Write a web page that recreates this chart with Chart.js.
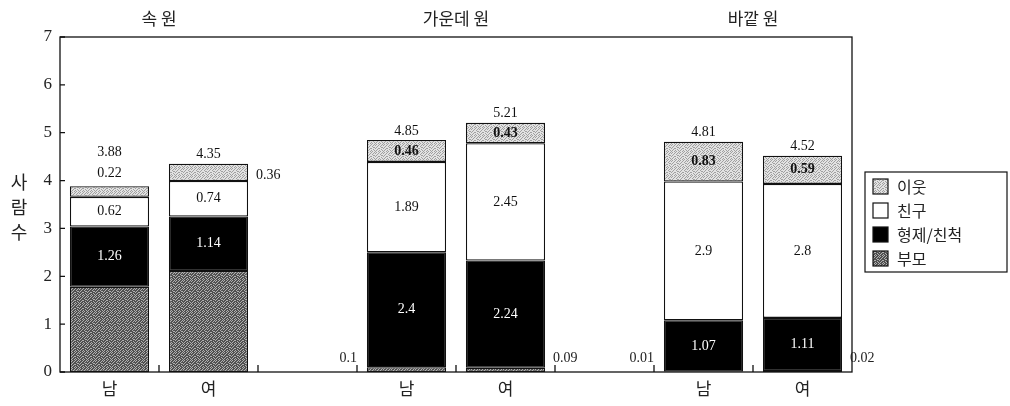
<!DOCTYPE html>
<html>
<head>
<meta charset="utf-8">
<script src="https://cdn.jsdelivr.net/npm/chart.js@4"></script>
<style>
  html, body { margin: 0; padding: 0; background: #fff; }
  #wrap { width: 1010px; height: 406px; }
</style>
</head>
<body>
<div id="wrap"><canvas id="mychart" width="1010" height="406"></canvas></div>
<script>
// categories (8 slots: 3 groups of 남/여 with empty gaps)
var slots = ['남', '여', '', '남', '여', '', '남', '여'];
var groups = ['속 원', '가운데 원', '바깥 원'];
var seriesNames = ['부모', '형제/친척', '친구', '이웃'];

// values
var parents    = [1.78, 2.11, null, 0.1,  0.09, null, 0.01, 0.02];
var siblings   = [1.26, 1.14, null, 2.4,  2.24, null, 1.07, 1.11];
var friends    = [0.62, 0.74, null, 1.89, 2.45, null, 2.9,  2.8];
var neighbours = [0.22, 0.36, null, 0.46, 0.43, null, 0.83, 0.59];
var totals     = [3.88, 4.35, null, 4.85, 5.21, null, 4.81, 4.52];
var yTicks = [0, 1, 2, 3, 4, 5, 6, 7];

var numFont = '"Liberation Serif", "DejaVu Serif", serif';
var krFont = '"Noto Sans CJK KR", sans-serif';

// speckled fills like the scanned print (fixed 8x8 tile)
var tile = [
    '10010010',
    '00100101',
    '01001000',
    '10000110',
    '00110001',
    '01000100',
    '10010010',
    '00101001'
];
function speckle(base, dot) {
    var c = document.createElement('canvas');
    c.width = 8; c.height = 8;
    var g = c.getContext('2d');
    g.fillStyle = base;
    g.fillRect(0, 0, 8, 8);
    g.fillStyle = dot;
    tile.forEach(function (row, y) {
        for (var x = 0; x < 8; x++) {
            if (row[x] === '1') g.fillRect(x, y, 1, 1);
        }
    });
    return g.createPattern(c, 'repeat');
}
var fillParents = speckle('#505050', '#b0b0b0');
var fillNeighbours = speckle('#e2e2e2', '#a0a0a0');

var frame = {
    id: 'frame',
    beforeDatasetsDraw: function (chart) {
        var a = chart.chartArea, g = chart.ctx, xs = chart.scales.x, ys = chart.scales.y;
        g.save();
        g.strokeStyle = '#111';
        g.lineWidth = 1.3;
        g.strokeRect(a.left, a.top, a.right - a.left, a.bottom - a.top);
        g.beginPath();
        yTicks.forEach(function (v) {
            var y = ys.getPixelForValue(v);
            g.moveTo(a.left, y); g.lineTo(a.left + 5, y);
        });
        for (var i = 1; i < slots.length; i++) {
            var x = (xs.getPixelForValue(i - 1) + xs.getPixelForValue(i)) / 2;
            g.moveTo(x, a.bottom); g.lineTo(x, a.bottom - 7);
        }
        g.stroke();
        g.restore();
    },
    afterDraw: function (chart) {
        var a = chart.chartArea, g = chart.ctx, xs = chart.scales.x;
        g.save();
        g.fillStyle = '#222';
        g.textAlign = 'center';
        g.textBaseline = 'middle';
        // group titles
        g.font = '17px ' + krFont;
        groups.forEach(function (t, k) {
            var x = (xs.getPixelForValue(k * 3) + xs.getPixelForValue(k * 3 + 1)) / 2;
            g.fillText(t, x, 19);
        });
        // y title, stacked
        g.font = '18px ' + krFont;
        ['사', '람', '수'].forEach(function (ch, k) {
            g.fillText(ch, 19, 182 + k * 25);
        });

        // value labels
        var metas = [0, 1, 2, 3].map(function (d) { return chart.getDatasetMeta(d); });
        for (var i = 0; i < slots.length; i++) {
            if (totals[i] == null) continue;
            var grp = Math.floor(i / 3), female = (i % 3) === 1;
            var top = metas[3].data[i];
            var half = top.width / 2;
            g.font = '14px ' + numFont;
            // 부모: only the small ones are labelled, beside the bar
            if (parents[i] < 0.5) {
                g.fillStyle = '#222';
                g.textAlign = female ? 'left' : 'right';
                g.fillText(String(parents[i]), female ? top.x + half + 8 : top.x - half - 10, a.bottom - 14);
            }
            g.textAlign = 'center';
            var sb = metas[1].data[i];
            g.fillStyle = '#fff';
            g.fillText(String(siblings[i]), sb.x, (sb.y + sb.base) / 2);
            var fr = metas[2].data[i];
            g.fillStyle = '#111';
            g.fillText(String(friends[i]), fr.x, (fr.y + fr.base) / 2);
            var nb = metas[3].data[i];
            if (grp === 0) {
                if (female) {
                    g.textAlign = 'left';
                    g.fillText(String(neighbours[i]), nb.x + half + 8, (nb.y + nb.base) / 2 + 3);
                    g.textAlign = 'center';
                    g.fillText(totals[i].toFixed(2), nb.x, nb.y - 9);
                } else {
                    g.fillText(String(neighbours[i]), nb.x, nb.y - 13);
                    g.fillText(totals[i].toFixed(2), nb.x, nb.y - 34);
                }
            } else {
                g.font = 'bold 14px ' + numFont;
                g.fillText(String(neighbours[i]), nb.x, (nb.y + nb.base) / 2);
                g.font = '14px ' + numFont;
                g.fillText(totals[i].toFixed(2), nb.x, nb.y - 9);
            }
        }

        // legend box
        var lx = 865, ly = 172, lw = 142, lh = 100;
        g.lineWidth = 1.2;
        g.strokeStyle = '#111';
        g.strokeRect(lx, ly, lw, lh);
        g.font = '16px ' + krFont;
        g.textAlign = 'left';
        [3, 2, 1, 0].forEach(function (d, k) {
            var cy = ly + 14 + k * 24;
            g.fillStyle = chart.data.datasets[d].backgroundColor;
            g.fillRect(lx + 8, cy - 7, 15, 15);
            g.strokeStyle = '#111';
            g.lineWidth = 1.2;
            g.strokeRect(lx + 8, cy - 7, 15, 15);
            g.fillStyle = '#222';
            g.fillText(seriesNames[d], lx + 32, cy + 1);
        });
        g.restore();
    }
};

var ctx = document.getElementById('mychart').getContext('2d');
var myChart = new Chart(ctx, {
    type: 'bar',
    data: {
        labels: slots,
        datasets: [
            { label: seriesNames[0], data: parents, backgroundColor: fillParents },
            { label: seriesNames[1], data: siblings, backgroundColor: '#000' },
            { label: seriesNames[2], data: friends, backgroundColor: '#fff' },
            { label: seriesNames[3], data: neighbours, backgroundColor: fillNeighbours }
        ].map(function (d) {
            d.borderColor = '#111';
            d.borderWidth = 1.3;
            d.borderSkipped = false;
            d.barPercentage = 0.8;
            d.categoryPercentage = 1;
            return d;
        })
    },
    options: {
        responsive: false,
        animation: false,
        devicePixelRatio: 1,
        layout: { padding: { top: 37, right: 158, bottom: 0, left: 0 } },
        plugins: {
            legend: { display: false },
            tooltip: { enabled: false }
        },
        scales: {
            x: {
                stacked: true,
                grid: { display: false, drawTicks: false },
                border: { display: false },
                ticks: { color: '#222', font: { family: krFont, size: 17 }, padding: 6 },
                afterFit: function (s) { s.height = 34; }
            },
            y: {
                stacked: true,
                min: 0,
                max: 7,
                grid: { display: false, drawTicks: false },
                border: { display: false },
                ticks: { stepSize: 1, color: '#222', font: { family: numFont, size: 17 }, padding: 8 },
                afterFit: function (s) { s.width = 60; }
            }
        }
    },
    plugins: [frame]
});
</script>
</body>
</html>
